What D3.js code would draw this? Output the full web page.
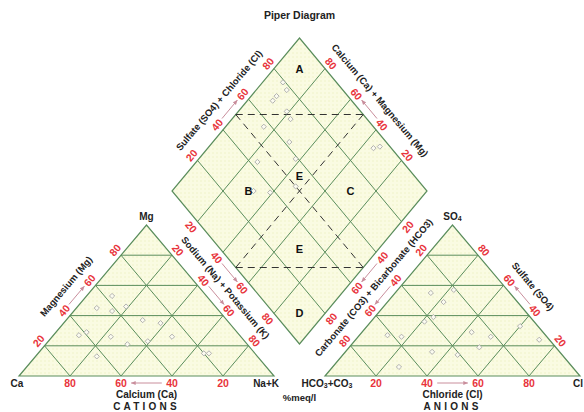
<!DOCTYPE html>
<html><head><meta charset="utf-8">
<script src="https://cdn.jsdelivr.net/npm/d3@7"></script>
<style>
body{margin:0;background:#fff}
svg{display:block}
text{font-family:Arial,"Liberation Sans",sans-serif;font-weight:bold}
</style>
</head><body>
<svg id="c" width="584" height="412"></svg>
<script>
// ---- data ----
const tickValues = [20, 40, 60, 80];
const cationCa  = [37, 47, 42, 35, 63, 59, 51, 27, 20, 18, 63, 47, 38, 27, 33];
const cationMg  = [53, 45, 43, 46, 27, 29, 26, 26, 15, 15, 13, 21, 23, 35, 37];
const anionHCO3 = [31, 21, 43, 29, 28, 22, 30, 50,  7,  4, 57, 68, 62, 41, 38];
const anionSO4  = [55, 57, 36, 49, 29, 26, 19, 16, 33, 24, 26,  6, 27, 14, 39];
const regionNames = ["A", "B", "C", "E", "E", "D"];
const regionCM    = [90, 70, 30, 55, 31, 10];
const regionSC    = [90, 30, 70, 55, 31, 10];

// ---- geometry via scales ----
const S = 255, H = 151, base = 376, xL = 19, xR = 325;
const xc = d3.scaleLinear().domain([0, 100]).range([xL, xL + S]);
const xa = d3.scaleLinear().domain([0, 100]).range([xR, xR + S]);
const yt = d3.scaleLinear().domain([0, 100]).range([base, base - H]);
const bx = (xL + S + xR) / 2;
const xd = d3.scaleLinear().domain([-100, 100]).range([bx - S / 2, bx + S / 2]);
const yd = d3.scaleLinear().domain([0, 200]).range([344, 38]);

const cat = (ca, mg) => { const na = 100 - ca - mg; return [xc(na + mg / 2), yt(mg)]; };
const an  = (hco3, so4) => { const cl = 100 - hco3 - so4; return [xa(cl + so4 / 2), yt(so4)]; };
const dia = (cm, sc) => [xd(sc - cm), yd(cm + sc)];

const ang = Math.atan2(H, S / 2), deg = ang * 180 / Math.PI;
const sn = Math.sin(ang), cs = Math.cos(ang);
const NL = [-sn, -cs], NR = [sn, -cs], NDL = [-sn, cs], NDR = [sn, cs], ND = [0, 1];

const svg = d3.select("#c");
const defs = svg.append("defs");
const pat = defs.append("pattern").attr("id", "dots").attr("width", 4).attr("height", 4)
  .attr("patternUnits", "userSpaceOnUse");
pat.append("rect").attr("width", 4).attr("height", 4).attr("fill", "#fafbe2");
pat.append("circle").attr("cx", 1).attr("cy", 1).attr("r", 0.7).attr("fill", "#edf0c3");
const mk = defs.append("marker").attr("id", "arr").attr("viewBox", "0 0 10 10")
  .attr("refX", 9).attr("refY", 5).attr("markerWidth", 5).attr("markerHeight", 5)
  .attr("orient", "auto");
mk.append("path").attr("d", "M0,1 L10,5 L0,9 z").attr("fill", "#c98e9c");

const line = d3.line();
const GRID = "#5a8d5c";

// shapes
const shapes = [
  [cat(100, 0), cat(0, 100), cat(0, 0)],
  [an(100, 0), an(0, 100), an(0, 0)],
  [dia(0, 0), dia(100, 0), dia(100, 100), dia(0, 100)]
];
svg.selectAll("path.shape").data(shapes).join("path").attr("class", "shape")
  .attr("d", d => line(d) + "Z").attr("fill", "url(#dots)").attr("stroke", GRID).attr("stroke-width", 1.2);

// grid
const grid = [];
tickValues.forEach(v => {
  grid.push([cat(100 - v, v), cat(0, v)], [cat(v, 100 - v), cat(v, 0)], [cat(100 - v, 0), cat(0, 100 - v)]);
  grid.push([an(100 - v, v), an(0, v)], [an(v, 100 - v), an(v, 0)], [an(100 - v, 0), an(0, 100 - v)]);
  grid.push([dia(v, 0), dia(v, 100)], [dia(0, v), dia(100, v)]);
});
svg.append("g").selectAll("path").data(grid).join("path")
  .attr("d", line).attr("stroke", GRID).attr("stroke-width", 1).attr("fill", "none");

// dashed region boundaries
const dashed = [
  [dia(100, 50), dia(50, 100)], [dia(50, 0), dia(0, 50)],
  [dia(100, 50), dia(0, 50)], [dia(50, 100), dia(50, 0)]
];
svg.append("g").selectAll("path").data(dashed).join("path")
  .attr("d", line).attr("stroke", "#333").attr("stroke-width", 1).attr("stroke-dasharray", "7,5").attr("fill", "none");

// axes definitions
const axes = [
  {f: v => cat(v, 0), n: ND, r: 0},
  {f: v => cat(100 - v, v), n: NL, r: -deg, title: "Magnesium (Mg)", td: 22},
  {f: v => cat(0, 100 - v), n: NR, r: deg, title: "Sodium (Na) + Potassium (K)", td: 20},
  {f: v => an(100 - v, 0), n: ND, r: 0},
  {f: v => an(v, 100 - v), n: NL, r: -deg, title: "Carbonate (CO3) + Bicarbonate (HCO3)", td: 20},
  {f: v => an(0, v), n: NR, r: deg, title: "Sulfate (SO4)", td: 22},
  {f: v => dia(100, v), n: NL, r: -deg, title: "Sulfate (SO4) + Chloride (Cl)", td: 22},
  {f: v => dia(v, 100), n: NR, r: deg, title: "Calcium (Ca) + Magnesium (Mg)", td: 22},
  {f: v => dia(100 - v, 0), n: NDL, r: deg},
  {f: v => dia(0, 100 - v), n: NDR, r: -deg}
];
const off = (p, n, d) => [p[0] + n[0] * d, p[1] + n[1] * d];

axes.forEach(a => {
  const d0 = a.r === 0 ? 7 : 8;
  tickValues.forEach(v => {
    const p = off(a.f(v), a.n, d0);
    svg.append("text").attr("transform", `translate(${p[0]},${p[1]}) rotate(${a.r})`)
      .attr("text-anchor", "middle").attr("dominant-baseline", "central")
      .attr("font-size", 10.5).attr("fill", "#e8343c").text(v);
  });
  const p1 = off(a.f(44), a.n, d0), p2 = off(a.f(56), a.n, d0);
  svg.append("path").attr("d", line([p1, p2])).attr("stroke", "#c98e9c").attr("stroke-width", 1)
    .attr("marker-end", "url(#arr)");
  if (a.title) {
    const p = off(a.f(50), a.n, a.td);
    svg.append("text").attr("transform", `translate(${p[0]},${p[1]}) rotate(${a.r})`)
      .attr("text-anchor", "middle").attr("dominant-baseline", "central")
      .attr("font-size", 9.5).attr("fill", "#222").text(a.title);
  }
});

// points
const diamondPath = "M0,-2.6 L2.6,0 L0,2.6 L-2.6,0 Z";
const samples = cationCa.map((ca, i) => ({ca, mg: cationMg[i], hco3: anionHCO3[i], so4: anionSO4[i]}));
const allPts = [];
samples.forEach(s => {
  allPts.push(cat(s.ca, s.mg));
  allPts.push(an(s.hco3, s.so4));
  allPts.push(dia(s.ca + s.mg, 100 - s.hco3));
});
svg.append("g").selectAll("path").data(allPts).join("path")
  .attr("transform", d => `translate(${d[0]},${d[1]})`).attr("d", diamondPath)
  .attr("fill", "#fbfbf0").attr("stroke", "#a9a9a9").attr("stroke-width", 0.9);

// region letters
svg.append("g").selectAll("text").data(regionNames).join("text")
  .attr("x", (d, i) => dia(regionCM[i], regionSC[i])[0])
  .attr("y", (d, i) => dia(regionCM[i], regionSC[i])[1])
  .attr("text-anchor", "middle").attr("dominant-baseline", "central")
  .attr("font-size", 11).attr("fill", "#111").text(d => d);

// vertex and other labels
const T = (x, y, txt, size, anchor, ls) => svg.append("text").attr("x", x).attr("y", y)
  .attr("text-anchor", anchor || "middle").attr("dominant-baseline", "central")
  .attr("font-size", size).attr("fill", "#222").attr("letter-spacing", ls || 0).text(txt);

T(bx, 15, "Piper Diagram", 10.5);
const mgP = cat(0, 100);
T(mgP[0], mgP[1] - 9, "Mg", 10);
T(xL - 2, 383, "Ca", 10);
T(xL + S + 5, 383, "Na+K", 10, "end");
T(xc(50), 394, "Calcium (Ca)", 10);
T(xc(50), 406, "CATIONS", 10, "middle", 3.2);
T(bx, 397, "%meq/l", 9.5);
T(xa(50), 394, "Chloride (Cl)", 10);
T(xa(50), 406, "ANIONS", 10, "middle", 3.2);
T(583, 383, "Cl", 10, "end");

const so4P = an(0, 100);
const s4 = svg.append("text").attr("x", so4P[0]).attr("y", so4P[1] - 9).attr("text-anchor", "middle")
  .attr("dominant-baseline", "central").attr("font-size", 10).attr("fill", "#222");
s4.append("tspan").text("SO");
s4.append("tspan").attr("font-size", 7).attr("dy", 2).text("4");

const hc = svg.append("text").attr("x", xR + 2).attr("y", 383).attr("text-anchor", "middle")
  .attr("dominant-baseline", "central").attr("font-size", 10).attr("fill", "#222");
hc.append("tspan").text("HCO");
hc.append("tspan").attr("font-size", 7).attr("dy", 2).text("3");
hc.append("tspan").attr("dy", -2).text("+CO");
hc.append("tspan").attr("font-size", 7).attr("dy", 2).text("3");
</script>
</body></html>
